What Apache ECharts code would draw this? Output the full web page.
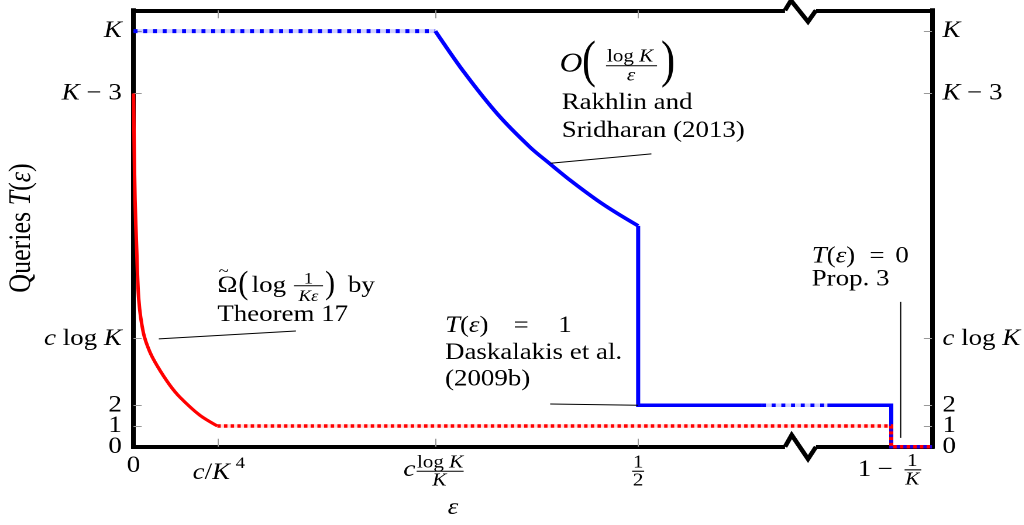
<!DOCTYPE html>
<html><head><meta charset="utf-8">
<script src="https://cdn.jsdelivr.net/npm/echarts@6/dist/echarts.min.js"></script>
<style>
html,body{margin:0;padding:0;overflow:hidden;background:#fff;width:1024px;height:525px}
#wrap{width:1024px;height:525px;overflow:hidden}
#c{width:875.2px;height:525px;transform:scaleX(1.17);transform-origin:0 0}
</style></head><body><div id="wrap"><div id="c"></div></div>
<script>
// ---------------- data ----------------
const xTickValues = [0, 0.105, 0.378, 0.632, 0.949];
const yTickValues = [0, 1, 2, 5.2, 17, 20];
const yTickLabels = ['{r|0}', '{r|1}', '{r|2}', '{i|c}{r| log }{i|K}', '{i|K}{r| − 3}', '{i|K}'];
const blueFlat  = [[0, 20], [0.378, 20]];
const blueCurve = [[0.378, 20], [0.414, 18.02], [0.456, 16.0], [0.497, 14.4], [0.522, 13.6], [0.547, 12.82], [0.580, 11.88], [0.605, 11.25], [0.632, 10.63]];
const blueStepA = [[0.632, 10.63], [0.632, 2], [0.787, 2]];
const blueBreak = [[0.787, 2], [0.869, 2]];
const blueStepB = [[0.869, 2], [0.949, 2], [0.949, 0], [1, 0]];
const redCurve  = [[0, 17], [0.0009, 14.3], [0.0019, 11.9], [0.004, 9.47], [0.0066, 7.07], [0.0124, 5.48], [0.0205, 4.56], [0.0305, 3.84], [0.0454, 2.97], [0.0578, 2.4], [0.0827, 1.53], [0.105, 1]];
const redFlat   = [[0.105, 1], [0.949, 1], [0.949, 0], [1, 0]];
const noteRed   = [[0.0317, 5.19], [0.2034, 5.57]];
const noteBlue  = [[0.5221, 13.64], [0.6486, 14.09]];
const noteDask  = [[0.5218, 2.06], [0.632, 2.0]];
const noteProp  = [[0.9608, 6.97], [0.9608, 0.43]];

// ---------------- layout ----------------
const S = 1.17;
const F = 'Liberation Serif';
const BLUE = '#0000ff', RED = '#ff0000';

const chart = echarts.init(document.getElementById('c'), null, {renderer: 'canvas', devicePixelRatio: 2});

function labRich(fs, lh) {
  return {
    i: {fontFamily: F, fontStyle: 'italic', fontSize: fs, color: '#000', lineHeight: lh},
    r: {fontFamily: F, fontSize: fs, color: '#000', lineHeight: lh}
  };
}
function yLabel(v) {
  for (let k = 0; k < yTickValues.length; k++) if (Math.abs(yTickValues[k] - v) < 1e-6) return yTickLabels[k];
  return '';
}
function xAx(pos) {
  return {
    type: 'value', min: 0, max: 1, position: pos,
    axisLine: {show: true, onZero: false, lineStyle: {color: '#000', width: 4, cap: 'square'}},
    axisTick: {show: true, inside: true, length: 8, customValues: xTickValues.slice(1, 4), lineStyle: {color: '#999', width: 1}},
    axisLabel: {show: false}, splitLine: {show: false}
  };
}
// main y axes (frame, ticks and labels except "1"), plus label-only axes for "1"
function yAx(pos, labelValues, frame) {
  return {
    type: 'value', min: 0, max: 21, position: pos,
    axisLine: {show: frame, onZero: false, lineStyle: {color: '#000', width: 4, cap: 'square'}},
    axisTick: {show: frame, inside: true, length: 7, customValues: yTickValues.slice(1), lineStyle: {color: '#999', width: 1}},
    axisLabel: {show: true, customValues: labelValues, showMinLabel: true, showMaxLabel: true, hideOverlap: false,
      margin: pos === 'left' ? 10 : 9, formatter: yLabel, fontFamily: F, fontSize: 23, color: '#000', rich: labRich(23, 16)},
    splitLine: {show: false}
  };
}
const mainLabelValues = yTickValues.filter(v => v !== 1);
const oneLabelValues = yTickValues.filter(v => v === 1);

function line(data, color, width, type, z, extra) {
  return Object.assign({
    type: 'line', data: data, showSymbol: false, symbol: 'none', clip: false, silent: true, animation: false, z: z,
    lineStyle: {color: color, width: width, type: type, cap: 'butt', join: 'miter'}
  }, extra || {});
}
const smoothOpt = {smooth: 0.3};
const blueDot = [3.4, 4.9], redDot = [2.9, 2.8];

chart.setOption({
  animation: false,
  backgroundColor: '#fff',
  grid: {left: 133.5 / S, right: (1024 - 937.5) / S, top: 10.3, bottom: 525 - 446.8},
  xAxis: [xAx('bottom'), xAx('top')],
  yAxis: [yAx('left', mainLabelValues, true), yAx('right', mainLabelValues, true),
          yAx('left', oneLabelValues, false), yAx('right', oneLabelValues, false)],
  series: [
    line(blueFlat, 'rgba(0,0,255,0.18)', 4, 'solid', 2),
    line(blueFlat, BLUE, 4, blueDot, 3),
    line(blueCurve, BLUE, 3.5, 'solid', 3, smoothOpt),
    line(blueStepA, BLUE, 3.5, 'solid', 3),
    line(blueBreak, 'rgba(0,0,255,0.18)', 3.5, 'solid', 2),
    line(blueBreak, BLUE, 3.5, blueDot, 3),
    line(blueStepB, BLUE, 3.5, 'solid', 3),
    line(redCurve, RED, 3, 'solid', 5, smoothOpt),
    line(redFlat, 'rgba(255,0,0,0.15)', 3.5, 'solid', 4),
    line(redFlat, RED, 3.5, redDot, 5),
    line(noteRed, '#000', 1, 'solid', 6),
    line(noteBlue, '#000', 1, 'solid', 6),
    line(noteDask, '#000', 1, 'solid', 6),
    line(noteProp, '#000', 1, 'solid', 6)
  ]
});

// --------------- text overlays (real text) ---------------
function gt(xr, y, text, fs, opt) {
  opt = opt || {};
  return {
    type: 'text', z: 100, silent: true, x: xr / S, y: y, rotation: opt.rotation || 0, scaleY: opt.scaleY || 1,
    style: {
      text: text, fill: '#000',
      fontFamily: F, fontSize: fs, fontStyle: opt.italic ? 'italic' : 'normal',
      textAlign: opt.align || 'left', textVerticalAlign: 'middle',
      rich: labRich(fs)
    }
  };
}
function bar(x1, x2, y) {
  return {type: 'rect', z: 100, silent: true, shape: {x: x1 / S, y: y - 0.5, width: (x2 - x1) / S, height: 1.1}, style: {fill: '#000'}};
}
const px = v => chart.convertToPixel({xAxisIndex: 0}, v) * S;
const p0 = px(xTickValues[0]), p1 = px(xTickValues[1]), p2 = px(xTickValues[2]), p3 = px(xTickValues[3]), p4 = px(xTickValues[4]);

const G = [];
// x tick labels
G.push(gt(p0, 466, '0', 23, {align: 'center'}));
G.push(gt(p1 - 6, 473, '{i|c}{r|/}{i|K}', 23, {align: 'center'}));
G.push(gt(p1 + 23, 464, '4', 16, {align: 'center'}));
G.push(gt(p2 - 26, 470, 'c', 23, {align: 'center', italic: true}));
G.push(gt(p2 + 4.8, 463, '{r|log }{i|K}', 18, {align: 'center'}));
G.push(bar(p2 - 18.7, p2 + 28.3, 471.2));
G.push(gt(p2 + 4, 480.6, 'K', 18, {align: 'center', italic: true}));
G.push(gt(p3, 463, '1', 18, {align: 'center'}));
G.push(bar(p3 - 6, p3 + 6, 471.2));
G.push(gt(p3, 480.6, '2', 18, {align: 'center'}));
G.push(gt(p4 - 26.7, 470, '1', 23, {align: 'center'}));
G.push(gt(p4 - 6, 470, '−', 23, {align: 'center'}));
G.push(gt(p4 + 21, 461.3, '1', 18, {align: 'center'}));
G.push(bar(p4 + 13.3, p4 + 30, 469.8));
G.push(gt(p4 + 21, 479.6, 'K', 18, {align: 'center', italic: true}));
// axis names
G.push(gt(453, 508, 'ε', 23, {align: 'center', italic: true}));
G.push(gt(22, 228, '{r|Queries }{i|T}{r|(}{i|ε}{r|)}', 26, {align: 'center', rotation: Math.PI / 2}));

// annotation: O(log K / eps)
G.push(gt(571, 64.5, 'O', 27, {align: 'center', italic: true}));
G.push(gt(589, 63, '(', 36, {align: 'center', scaleY: 1.45}));
G.push(gt(668, 63, ')', 36, {align: 'center', scaleY: 1.45}));
G.push(gt(630, 57, '{r|log }{i|K}', 18, {align: 'center'}));
G.push(bar(606, 657, 65.7));
G.push(gt(631, 76, 'ε', 18, {align: 'center', italic: true}));
G.push(gt(561.7, 103, 'Rakhlin and', 23));
G.push(gt(561.7, 131, 'Sridharan (2013)', 23));

// annotation: Omega~(log 1/(K eps)) by Theorem 17
G.push(gt(217.3, 286, 'Ω', 23));
G.push(gt(223.7, 272, '~', 16, {align: 'center'}));
G.push(gt(243.3, 285, '(', 26, {align: 'center', scaleY: 1.25}));
G.push(gt(251.7, 286, 'log', 23));
G.push(gt(308.5, 279.2, '1', 16, {align: 'center'}));
G.push(bar(294, 323, 285.7));
G.push(gt(308.5, 296.9, 'Kε', 16, {align: 'center', italic: true}));
G.push(gt(330, 285, ')', 26, {align: 'center', scaleY: 1.25}));
G.push(gt(348, 286, 'by', 23));
G.push(gt(217.3, 314.8, 'Theorem 17', 23));

// annotation: T(eps) = 1 Daskalakis et al. (2009b)
G.push(gt(445, 326, '{i|T}{r|(}{i|ε}{r|)}', 23));
G.push(gt(521, 326, '=', 23, {align: 'center'}));
G.push(gt(565, 326, '1', 23, {align: 'center'}));
G.push(gt(445, 353, 'Daskalakis et al.', 23));
G.push(gt(445, 379.7, '(2009b)', 23));

// annotation: T(eps) = 0 Prop. 3
G.push(gt(811.7, 256.3, '{i|T}{r|(}{i|ε}{r|)}', 23));
G.push(gt(877, 256.3, '=', 23, {align: 'center'}));
G.push(gt(902, 256.3, '0', 23, {align: 'center'}));
G.push(gt(811.7, 279.7, 'Prop. 3', 23));

// axis breaks
function poly(pts) {
  return {type: 'polyline', z: 101, silent: true, shape: {points: pts.map(p => [p[0] / S, p[1]])}, style: {stroke: '#000', lineWidth: 4, fill: null, lineJoin: 'miter'}};
}
G.push({type: 'rect', z: 100, silent: true, shape: {x: 785 / S, y: 6, width: 31 / S, height: 9}, style: {fill: '#fff'}});
G.push({type: 'rect', z: 100, silent: true, shape: {x: 785 / S, y: 442.3, width: 31 / S, height: 9}, style: {fill: '#fff'}});
G.push(poly([[785, 10.3], [791, 0.5], [808, 21.7], [816, 10.3]]));
G.push(poly([[785, 446.8], [791.7, 435], [808, 459], [816, 446.8]]));

chart.setOption({graphic: G});
</script>
</body></html>
